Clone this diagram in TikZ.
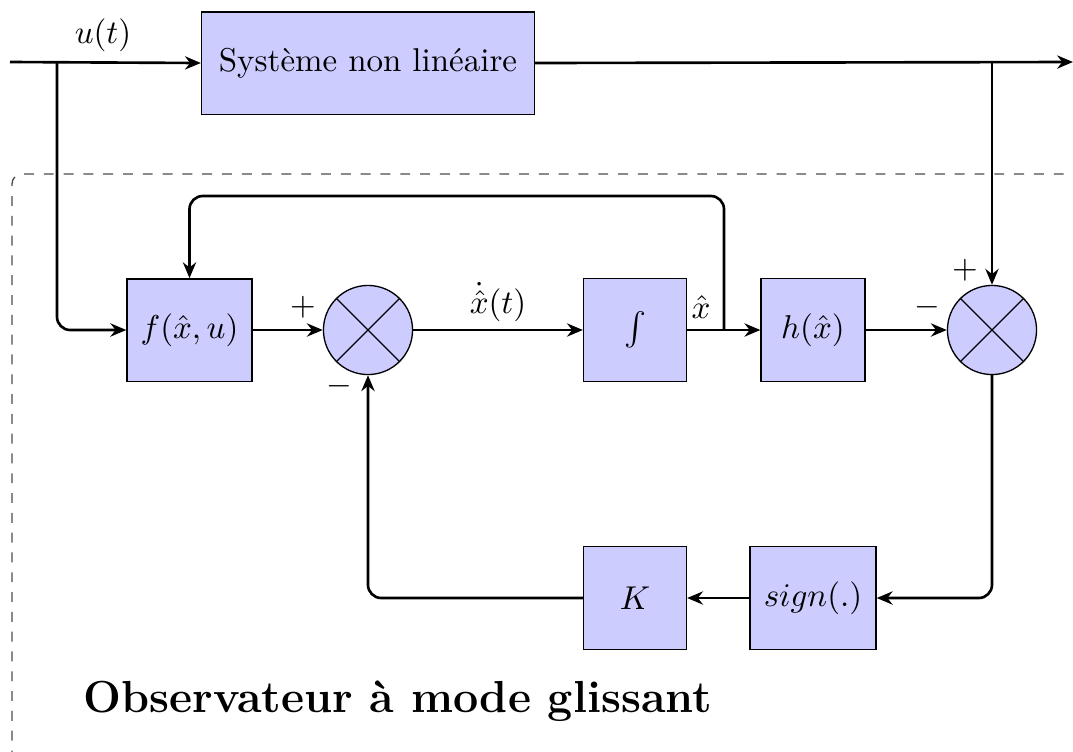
\documentclass[tikz,border=0pt]{standalone}
\usepackage{fontspec}
\usetikzlibrary{arrows.meta,calc}

\tikzset{
  blockbox/.style={draw, fill=blue!20, minimum width=31.2pt, minimum height=31.2pt, inner sep=2pt},
  sumnode/.style={draw, fill=blue!20, circle, minimum size=27pt, inner sep=0pt},
  link/.style={thick, -{Stealth[length=4.8pt,width=4pt]}},
  sign/.style={inner sep=0pt},
  frame/.style={dashed, draw=black!70, rounded corners=3pt}
}

\begin{document}
\begin{tikzpicture}[x=0.303pt, y=-0.303pt]
  \path[use as bounding box, clip] (0,0) rectangle (1073,751);

  % observer frame
  \draw[frame] (12,800) -- (12,174) -- (1120,174);

  % plant
  \node[blockbox, minimum width=100.9pt, minimum height=31pt] (sys) at (368,63) {Système non linéaire};
  \coordinate (in) at (10,62);
  \coordinate (ub) at (57,62);
  \coordinate (out) at (1073,62);
  \coordinate (yb) at (992,62);
  \node (ulab) at (103,35) {$u(t)$};

  % observer blocks
  \node[blockbox, minimum width=37.9pt, minimum height=31pt] (f) at (189.5,330) {$f(\hat{x},u)$};
  \node[sumnode] (s1) at (368,330) {};
  \node[blockbox] (int) at (635,330) {$\int$};
  \node[blockbox, minimum width=31.5pt] (h) at (813,330) {$h(\hat{x})$};
  \node[sumnode] (s2) at (992,330) {};
  \node[blockbox, minimum width=38.2pt] (sgn) at (813,598) {$sign(.)$};
  \node[blockbox] (K) at (635,598) {$K$};
  \coordinate (xb) at (724,330);
  \coordinate (fbtop) at (724,196);

  % crosses of the summing junctions
  \foreach \s in {s1,s2}{
    \draw (\s.45) -- (\s.225) (\s.135) -- (\s.315);
  }

  % signals
  \draw[link] (in) -- (sys.west);
  \draw[link] (sys.east) -- (out);
  \draw[link, rounded corners] (ub) |- (f.west);
  \draw[link] (yb) -- (s2.north);
  \draw[link] (f) -- (s1);
  \draw[link] (s1) -- (int);
  \draw[link] (int) -- (h);
  \draw[link, rounded corners] (xb) -- (fbtop) -| (f.north);
  \draw[link] (h) -- (s2);
  \draw[link, rounded corners] (s2.south) |- (sgn.east);
  \draw[link] (sgn) -- (K);
  \draw[link, rounded corners] (K.west) -| (s1.south);

  % signal labels and signs
  \node (xdot) at (498,302) {$\dot{\hat{x}}(t)$};
  \node (xhat) at (701,307) {$\hat{x}$};
  \node[sign] (p1) at (303,307) {$+$};
  \node[sign] (m1) at (339,386) {$-$};
  \node[sign] (m2) at (927,307) {$-$};
  \node[sign] (p2) at (965,270) {$+$};

  % title of the observer
  \node[anchor=base west, inner sep=0pt, font=\fontsize{13.6pt}{16pt}\selectfont\bfseries] (title) at (83,712) {Observateur à mode glissant};
\end{tikzpicture}
\end{document}
